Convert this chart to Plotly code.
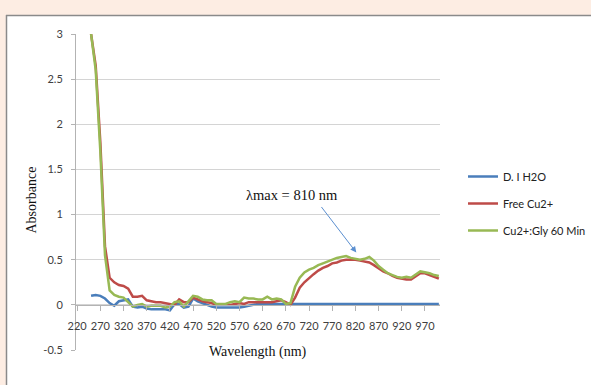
import plotly.graph_objects as go

wavelength = list(range(250, 1001, 10))

di_h2o = [0.10, 0.11, 0.10, 0.07, 0.02, -0.01, 0.04, 0.05, 0.06, -0.02,
          -0.03, -0.02, -0.04, -0.05, -0.05, -0.05, -0.05, -0.06, 0.01, 0.01,
          -0.03, -0.02, 0.07, 0.04, 0.02, 0.00, -0.02, -0.03, -0.03, -0.03,
          -0.03, -0.03, -0.03, -0.02, -0.01, 0.00, 0.01, 0.01, 0.01, 0.01,
          0.01, 0.01, 0.01, 0.01, 0.01, 0.01, 0.01, 0.01, 0.01, 0.01,
          0.01, 0.01, 0.01, 0.01, 0.01, 0.01, 0.01, 0.01, 0.01, 0.01,
          0.01, 0.01, 0.01, 0.01, 0.01, 0.01, 0.01, 0.01, 0.01, 0.01,
          0.01, 0.01, 0.01, 0.01, 0.01, 0.01]

free_cu = [3.00, 2.65, 1.80, 0.65, 0.30, 0.25, 0.22, 0.21, 0.18, 0.09,
           0.09, 0.10, 0.05, 0.04, 0.03, 0.03, 0.02, 0.01, 0.00, 0.06,
           0.03, 0.03, 0.08, 0.06, 0.04, 0.03, 0.02, 0.00, 0.00, 0.00,
           0.00, 0.01, 0.02, 0.01, 0.03, 0.03, 0.03, 0.03, 0.03, 0.03,
           0.04, 0.05, 0.03, 0.00, 0.08, 0.19, 0.25, 0.30, 0.34, 0.38,
           0.41, 0.43, 0.46, 0.47, 0.49, 0.50, 0.50, 0.50, 0.49, 0.48,
           0.47, 0.44, 0.40, 0.37, 0.35, 0.32, 0.30, 0.29, 0.28, 0.28,
           0.32, 0.35, 0.35, 0.33, 0.31, 0.29]

cu_gly = [3.00, 2.60, 1.70, 0.55, 0.16, 0.11, 0.09, 0.08, 0.03, -0.02,
          0.00, 0.01, -0.02, -0.01, -0.01, -0.01, -0.03, -0.02, 0.03, 0.04,
          -0.02, 0.04, 0.10, 0.09, 0.06, 0.05, 0.05, 0.01, 0.01, 0.01,
          0.03, 0.04, 0.03, 0.08, 0.07, 0.07, 0.06, 0.06, 0.09, 0.06,
          0.07, 0.06, 0.01, 0.02, 0.20, 0.30, 0.36, 0.39, 0.41, 0.44,
          0.46, 0.48, 0.50, 0.52, 0.53, 0.54, 0.52, 0.51, 0.50, 0.51,
          0.53, 0.49, 0.43, 0.39, 0.35, 0.33, 0.31, 0.30, 0.31, 0.30,
          0.34, 0.37, 0.36, 0.35, 0.33, 0.32]

x_ticks = list(range(220, 971, 50))
y_ticks = [-0.5, 0, 0.5, 1, 1.5, 2, 2.5, 3]
y_labels = ["-0.5", "0", "0.5", "1", "1.5", "2", "2.5", "3"]

series = [
    ("D. I H2O", di_h2o, "#4a7ebb"),
    ("Free Cu2+", free_cu, "#be4b48"),
    ("Cu2+:Gly 60 Min", cu_gly, "#98b954"),
]

fig = go.Figure()
for i, (name, vals, col) in enumerate(series):
    fig.add_trace(go.Scatter(
        x=wavelength, y=vals, mode="lines", name=name,
        line=dict(color=col, width=2.5), legendgroup=str(i),
    ))

L, R, T, B = 76, 151, 34, 35
W, H = 591, 385
pw, ph = W - L - R, H - T - B

def px(x):
    return (x - L) / pw

def py(y):
    return (H - B - y) / ph

PEACH = "#fdede3"
EDGE = "#8a8a8a"

fig.update_layout(
    width=W, height=H,
    margin=dict(l=L, r=R, t=T, b=B, autoexpand=False),
    paper_bgcolor="white",
    plot_bgcolor="white",
    showlegend=True,
    legend=dict(
        x=px(463), y=py(162), xanchor="left", yanchor="top",
        font=dict(family="Lato", size=11, color="#222222"),
        bgcolor="rgba(0,0,0,0)", tracegroupgap=8,
        itemwidth=30,
    ),
    xaxis=dict(
        range=[217.5, 1002.5], tickmode="array", tickvals=x_ticks,
        ticktext=[str(v) for v in x_ticks], tickangle=0,
        showgrid=False, zeroline=False,
        showline=True, linecolor="#b3b3b3", linewidth=1,
        ticks="outside", ticklen=5, tickcolor="#b3b3b3",
        anchor="free", position=0.5 / 3.5, ticklabelstandoff=6,
        tickfont=dict(family="Lato", size=11, color="#404040"),
    ),
    yaxis=dict(
        range=[-0.5, 3], tickmode="array", tickvals=y_ticks, ticktext=y_labels,
        showgrid=True, gridcolor="#d4d4d4", gridwidth=1, zeroline=False,
        showline=True, linecolor="#b3b3b3", linewidth=1,
        ticks="outside", ticklen=4, tickcolor="#b3b3b3",
        ticklabelstandoff=6,
        tickfont=dict(family="Lato", size=11, color="#404040"),
    ),
    shapes=[
        dict(type="rect", xref="paper", yref="paper",
             x0=px(-20), x1=px(W + 20), y0=py(15), y1=py(-20),
             fillcolor=PEACH, line=dict(width=0), layer="below"),
        dict(type="rect", xref="paper", yref="paper",
             x0=px(-20), x1=px(6), y0=py(H + 20), y1=py(-20),
             fillcolor=PEACH, line=dict(width=0), layer="below"),
        dict(type="line", xref="paper", yref="paper",
             x0=px(6), x1=px(W + 20), y0=py(15.5), y1=py(15.5),
             line=dict(color=EDGE, width=1.5), layer="below"),
        dict(type="line", xref="paper", yref="paper",
             x0=px(6.5), x1=px(6.5), y0=py(15), y1=py(H + 20),
             line=dict(color=EDGE, width=1.5), layer="below"),
    ],
    annotations=[
        dict(xref="paper", yref="paper", x=px(21), y=py(200),
             text="Absorbance", showarrow=False, textangle=-90,
             font=dict(family="Liberation Serif", size=14, color="#111111")),
        dict(xref="paper", yref="paper", x=px(258), y=py(362),
             text="Wavelength (nm)", showarrow=False,
             font=dict(family="Liberation Serif", size=14, color="#111111")),
        dict(xref="paper", yref="paper", x=px(340), y=py(195),
             text="λmax = 810 nm", showarrow=False,
             font=dict(family="Liberation Serif", size=14.5, color="#111111")),
        dict(x=822, y=0.58, xref="x", yref="y", text="",
             showarrow=True, ax=-36, ay=-47, arrowhead=2, arrowsize=1.2,
             arrowwidth=1, arrowcolor="#5b8fd0"),
    ],
)

fig.write_html("out.html")
